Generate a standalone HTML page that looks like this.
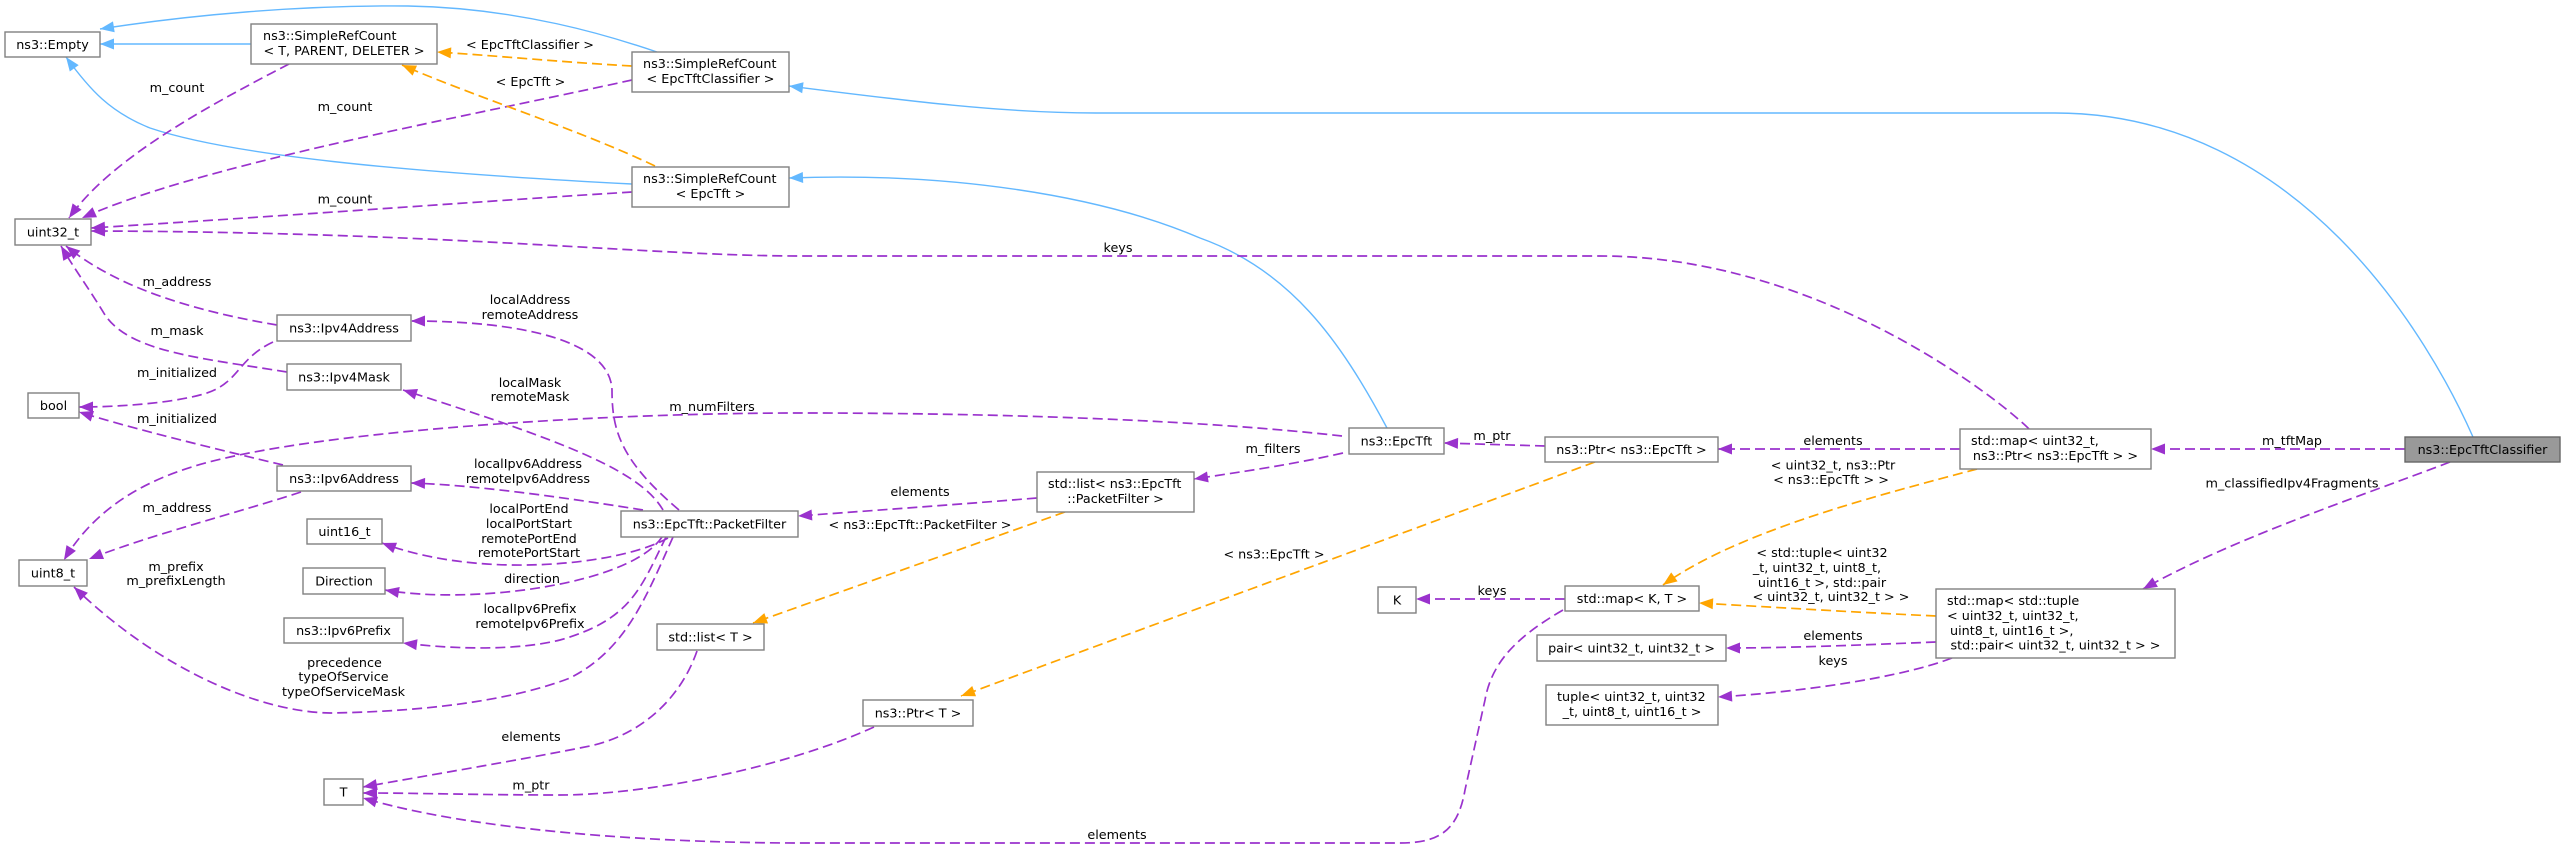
<!DOCTYPE html>
<html><head><meta charset="utf-8"><style>
html,body{margin:0;padding:0;background:#fff;}
svg{display:block;}
.n{fill:#fff;stroke:#808080;stroke-width:1.4;}
.h{fill:#999;stroke:#666;stroke-width:1.4;}
.p{fill:none;stroke:#9a32cd;stroke-width:1.7;stroke-dasharray:10 5;marker-end:url(#mp);}
.o{fill:none;stroke:#ffa500;stroke-width:1.7;stroke-dasharray:10 5;marker-end:url(#mo);}
.b{fill:none;stroke:#63b8ff;stroke-width:1.4;marker-end:url(#mb);}
text{fill:#000;}
.c{text-anchor:middle;}
</style></head><body>
<svg width="2565" height="848" viewBox="0 0 2565 848" xmlns="http://www.w3.org/2000/svg" font-family="'DejaVu Sans','Liberation Sans',sans-serif" font-size="12.75">
<defs>
<marker id="mp" markerUnits="userSpaceOnUse" markerWidth="16" markerHeight="14" viewBox="0 0 16 14" refX="15" refY="7" orient="auto"><path d="M1,1.5 L15,7 L1,12.5 z" fill="#9a32cd"/></marker>
<marker id="mo" markerUnits="userSpaceOnUse" markerWidth="16" markerHeight="14" viewBox="0 0 16 14" refX="15" refY="7" orient="auto"><path d="M1,1.5 L15,7 L1,12.5 z" fill="#ffa500"/></marker>
<marker id="mb" markerUnits="userSpaceOnUse" markerWidth="16" markerHeight="14" viewBox="0 0 16 14" refX="15" refY="7" orient="auto"><path d="M1,1.5 L15,7 L1,12.5 z" fill="#63b8ff"/></marker>
</defs>
<rect x="0" y="0" width="2565" height="848" fill="#fff"/>

<!-- blue inheritance edges -->
<path class="b" d="M251,44 L100,44"/>
<path class="b" d="M657,52 C610,36 520,8 408,6 C300,5 190,15 100,29"/>
<path class="b" d="M2473,437 C2430,340 2300,113 2055,113 L1096,113 C1000,113 900,100 789,86"/>
<path class="b" d="M632,184 C400,172 230,155 150,128 C110,112 90,90 66,57"/>
<path class="b" d="M1387,428 C1340,340 1290,270 1200,238 C1100,195 950,172 789,178"/>

<!-- purple usage edges -->
<path class="p" d="M289,64 C200,110 110,160 69,218"/>
<path class="p" d="M632,80 C450,120 200,165 82,218"/>
<path class="p" d="M632,192 C500,200 300,215 91,228"/>
<path class="p" d="M2029,429 C2000,400 1820,256 1600,256 L800,256 C650,256 450,232 91,231"/>
<path class="p" d="M277,325 C200,312 120,290 66,246"/>
<path class="p" d="M287,372 C200,358 130,352 105,315 C90,290 75,270 61,246"/>
<path class="p" d="M273,342 C235,360 240,385 200,395 C170,403 120,407 79,407"/>
<path class="p" d="M283,465 C220,450 130,428 79,412"/>
<path class="p" d="M1342,436 C1200,420 1000,413 800,413 C600,413 350,430 230,457 C160,472 100,500 64,560"/>
<path class="p" d="M679,510 C620,460 612,430 612,390 C610,340 520,321 411,321"/>
<path class="p" d="M663,510 C640,470 560,440 403,390"/>
<path class="p" d="M643,510 C580,500 480,485 411,483"/>
<path class="p" d="M301,492 C240,512 150,535 89,559"/>
<path class="p" d="M668,538 C620,565 480,580 382,543"/>
<path class="p" d="M662,537 C630,585 470,605 385,590"/>
<path class="p" d="M666,537 C640,590 630,620 560,640 C520,650 460,650 403,643"/>
<path class="p" d="M673,537 C645,600 625,650 570,678 C500,705 400,712 330,713 C260,712 160,670 74,587"/>
<path class="p" d="M1037,498 C950,505 880,510 798,516"/>
<path class="p" d="M1343,453 C1290,465 1240,472 1194,479"/>
<path class="p" d="M1545,446 L1444,443"/>
<path class="p" d="M1960,449 L1718,449"/>
<path class="p" d="M2405,449 L2151,449"/>
<path class="p" d="M2450,462 C2350,500 2230,540 2143,589"/>
<path class="p" d="M1565,599 L1416,599"/>
<path class="p" d="M1563,610 C1520,635 1492,660 1485,700 L1465,790 C1458,830 1440,843 1400,843 L800,843 C650,843 470,830 363,798"/>
<path class="p" d="M874,727 C780,770 640,795 560,795 C480,795 420,793 363,793"/>
<path class="p" d="M697,651 C680,700 640,735 590,746 C520,760 430,775 363,787"/>
<path class="p" d="M1936,642 C1860,645 1790,648 1726,648"/>
<path class="p" d="M1952,658 C1900,678 1800,692 1718,697"/>

<!-- orange template edges -->
<path class="o" d="M632,66 C560,62 500,56 437,52"/>
<path class="o" d="M655,166 C580,130 470,95 402,65"/>
<path class="o" d="M1977,469 C1880,495 1740,530 1663,585"/>
<path class="o" d="M1936,616 C1850,612 1770,607 1699,603"/>
<path class="o" d="M1595,462 L961,696"/>
<path class="o" d="M1065,512 L753,623"/>

<!-- nodes -->
<rect class="n" x="5" y="32" width="95" height="25"/><text class="c" x="52.5" y="49">ns3::Empty</text>
<rect class="n" x="251" y="24" width="186" height="40"/><text x="263" y="40">ns3::SimpleRefCount</text><text class="c" x="344" y="55">&lt; T, PARENT, DELETER &gt;</text>
<rect class="n" x="632" y="52" width="157" height="40"/><text x="643" y="68">ns3::SimpleRefCount</text><text class="c" x="710.5" y="83">&lt; EpcTftClassifier &gt;</text>
<rect class="n" x="632" y="167" width="157" height="40"/><text x="643" y="183">ns3::SimpleRefCount</text><text class="c" x="710.5" y="198">&lt; EpcTft &gt;</text>
<rect class="n" x="15" y="219" width="76" height="26"/><text class="c" x="53" y="236.5">uint32_t</text>
<rect class="n" x="277" y="315" width="134" height="26"/><text class="c" x="344" y="332.5">ns3::Ipv4Address</text>
<rect class="n" x="287" y="364" width="114" height="26"/><text class="c" x="344" y="381.5">ns3::Ipv4Mask</text>
<rect class="n" x="28" y="393" width="51" height="25"/><text class="c" x="53.5" y="410">bool</text>
<rect class="n" x="277" y="466" width="134" height="25"/><text class="c" x="344" y="483">ns3::Ipv6Address</text>
<rect class="n" x="307" y="519" width="75" height="25"/><text class="c" x="344.5" y="536">uint16_t</text>
<rect class="n" x="621" y="511" width="177" height="26"/><text class="c" x="709.5" y="528.5">ns3::EpcTft::PacketFilter</text>
<rect class="n" x="19" y="560" width="68" height="26"/><text class="c" x="53" y="577.5">uint8_t</text>
<rect class="n" x="303" y="568" width="82" height="26"/><text class="c" x="344" y="585.5">Direction</text>
<rect class="n" x="284" y="618" width="119" height="25"/><text class="c" x="343.5" y="635">ns3::Ipv6Prefix</text>
<rect class="n" x="657" y="624" width="107" height="26"/><text class="c" x="710.5" y="641.5">std::list&lt; T &gt;</text>
<rect class="n" x="324" y="779" width="39" height="26"/><text class="c" x="343.5" y="796.5">T</text>
<rect class="n" x="863" y="700" width="110" height="26"/><text class="c" x="918" y="717.5">ns3::Ptr&lt; T &gt;</text>
<rect class="n" x="1349" y="428" width="95" height="26"/><text class="c" x="1396.5" y="445.5">ns3::EpcTft</text>
<rect class="n" x="1037" y="472" width="157" height="40"/><text x="1048" y="488">std::list&lt; ns3::EpcTft</text><text class="c" x="1115.5" y="503">::PacketFilter &gt;</text>
<rect class="n" x="1545" y="437" width="173" height="25"/><text class="c" x="1631.5" y="454">ns3::Ptr&lt; ns3::EpcTft &gt;</text>
<rect class="n" x="1960" y="429" width="191" height="40"/><text x="1971" y="445">std::map&lt; uint32_t,</text><text class="c" x="2055.5" y="460">ns3::Ptr&lt; ns3::EpcTft &gt; &gt;</text>
<rect class="h" x="2405" y="437" width="155" height="25"/><text class="c" x="2482.5" y="454">ns3::EpcTftClassifier</text>
<rect class="n" x="1378" y="587" width="38" height="26"/><text class="c" x="1397" y="604.5">K</text>
<rect class="n" x="1565" y="586" width="134" height="25"/><text class="c" x="1632" y="603">std::map&lt; K, T &gt;</text>
<rect class="n" x="1936" y="589" width="239" height="69"/><text x="1947" y="605">std::map&lt; std::tuple</text><text x="1947" y="620">&lt; uint32_t, uint32_t,</text><text x="1950" y="635">uint8_t, uint16_t &gt;,</text><text class="c" x="2055.5" y="649.5">std::pair&lt; uint32_t, uint32_t &gt; &gt;</text>
<rect class="n" x="1537" y="635" width="189" height="26"/><text class="c" x="1631.5" y="652.5">pair&lt; uint32_t, uint32_t &gt;</text>
<rect class="n" x="1546" y="685" width="172" height="40"/><text x="1557" y="701">tuple&lt; uint32_t, uint32</text><text class="c" x="1632" y="716">_t, uint8_t, uint16_t &gt;</text>

<!-- edge labels -->
<g class="c" text-anchor="middle">
<text x="530" y="48.8">&lt; EpcTftClassifier &gt;</text>
<text x="530.5" y="86.2">&lt; EpcTft &gt;</text>
<text x="177" y="92.2">m_count</text>
<text x="345" y="111.2">m_count</text>
<text x="345" y="203.5">m_count</text>
<text x="1118" y="251.8">keys</text>
<text x="177" y="286">m_address</text>
<text x="530" y="303.8">localAddress</text>
<text x="530" y="318.8">remoteAddress</text>
<text x="177" y="335.2">m_mask</text>
<text x="177" y="376.8">m_initialized</text>
<text x="530" y="386.8">localMask</text>
<text x="530" y="401.2">remoteMask</text>
<text x="712" y="411.2">m_numFilters</text>
<text x="177" y="422.8">m_initialized</text>
<text x="528" y="467.8">localIpv6Address</text>
<text x="528" y="482.8">remoteIpv6Address</text>
<text x="177" y="512.2">m_address</text>
<text x="529" y="512.8">localPortEnd</text>
<text x="529" y="527.8">localPortStart</text>
<text x="529" y="542.8">remotePortEnd</text>
<text x="529" y="557.2">remotePortStart</text>
<text x="176" y="571.2">m_prefix</text>
<text x="176" y="585.2">m_prefixLength</text>
<text x="532" y="583.2">direction</text>
<text x="530" y="612.8">localIpv6Prefix</text>
<text x="530" y="627.8">remoteIpv6Prefix</text>
<text x="344.5" y="667.2">precedence</text>
<text x="343.5" y="681.2">typeOfService</text>
<text x="343.5" y="696.2">typeOfServiceMask</text>
<text x="531" y="741.2">elements</text>
<text x="531" y="789.5">m_ptr</text>
<text x="1117" y="838.8">elements</text>
<text x="1273" y="452.8">m_filters</text>
<text x="1492" y="440.2">m_ptr</text>
<text x="920" y="496.2">elements</text>
<text x="920" y="528.8">&lt; ns3::EpcTft::PacketFilter &gt;</text>
<text x="1274" y="558.5">&lt; ns3::EpcTft &gt;</text>
<text x="1492" y="595.2">keys</text>
<text x="1833" y="445.2">elements</text>
<text x="1833" y="469.5">&lt; uint32_t, ns3::Ptr</text>
<text x="1831" y="483.8">&lt; ns3::EpcTft &gt; &gt;</text>
<text x="2292" y="445.2">m_tftMap</text>
<text x="2292" y="487.5">m_classifiedIpv4Fragments</text>
<text x="1822" y="557.2">&lt; std::tuple&lt; uint32</text>
<text x="1817" y="572.2">_t, uint32_t, uint8_t,</text>
<text x="1822" y="586.8">uint16_t &gt;, std::pair</text>
<text x="1831" y="601.2">&lt; uint32_t, uint32_t &gt; &gt;</text>
<text x="1833" y="640.2">elements</text>
<text x="1833" y="665.2">keys</text>
</g>
</svg>
</body></html>
